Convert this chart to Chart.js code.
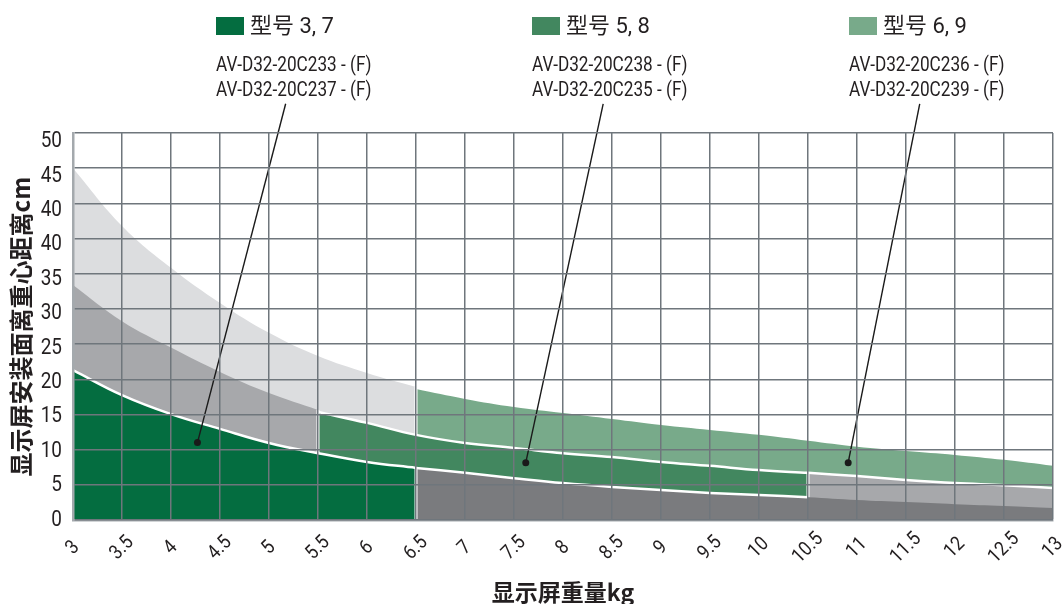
<!DOCTYPE html>
<html>
<head>
<meta charset="utf-8">
<script src="https://cdn.jsdelivr.net/npm/chart.js@4.4.1/dist/chart.umd.min.js"></script>
<style>
  html, body { margin: 0; padding: 0; background: #fff; }
  #wrap { position: relative; width: 1062px; height: 604px; overflow: hidden; }
  #chart { position: absolute; left: 0; top: 0; }
  .leg { position: absolute; top: 12px; font-family: Roboto, 'Noto Sans CJK SC', sans-serif; font-size: 22px; color: #231f20; white-space: nowrap; line-height: 28px; }
  .leg i { display: inline-block; width: 28px; height: 18px; margin-right: 6px; vertical-align: -2px; }
  .mdl { position: absolute; top: 52px; font-family: Roboto, sans-serif; font-size: 20px; line-height: 25px; color: #231f20; white-space: nowrap; transform: scaleX(0.86); transform-origin: 0 0; }
</style>
</head>
<body>
<div id="wrap">
  <canvas id="chart" width="1062" height="604"></canvas>
</div>
<script>
// weights (kg) on the x axis
const weightsA = [3, 3.5, 4, 4.5, 5, 5.5, 6, 6.5];
const weightsB = [5.5, 6, 6.5, 7, 7.5, 8, 8.5, 9, 9.5, 10, 10.5];
const weightsC = [6.5, 7, 7.5, 8, 8.5, 9, 9.5, 10, 10.5, 11, 11.5, 12, 12.5, 13];
const weightsD = [10.5, 11, 11.5, 12, 12.5, 13];
const weightsM = [3, 3.5, 4, 4.5, 5, 5.5];

// band tops, in grid rows of the y axis (see yTickLabels)
const lightGrayTop = [10.0, 8.36, 7.17, 6.17, 5.32, 4.66, 4.18, 3.78];
const midGrayTop = [6.68, 5.65, 4.90, 4.21, 3.61, 3.13];
const darkGreenTop = [4.26, 3.55, 3.01, 2.59, 2.19, 1.90, 1.65, 1.48];
const midGreenTop = [3.07, 2.76, 2.42, 2.19, 2.05, 1.90, 1.79, 1.65, 1.54, 1.42, 1.34];
const lightGreenTop = [3.72, 3.44, 3.21, 3.04, 2.87, 2.70, 2.56, 2.42, 2.25, 2.08, 1.96, 1.85, 1.71, 1.54];
const darkGrayTop = [1.48, 1.34, 1.19, 1.05, 0.94, 0.85, 0.77, 0.71, 0.65, 0.57, 0.51, 0.45, 0.40, 0.34];
const midGrayTop2 = [1.34, 1.25, 1.14, 1.05, 0.99, 0.91];

const xTickLabels = ['3', '3.5', '4', '4.5', '5', '5.5', '6', '6.5', '7', '7.5', '8', '8.5', '9', '9.5', '10', '10.5', '11', '11.5', '12', '12.5', '13'];
const yTickLabels = ['0', '5', '10', '15', '20', '25', '30', '35', '40', '40', '45', '50'];

// callout lines: from below the model names down to a dot in each band
const leaderTopX = [5.17, 8.41, 11.64];
const leaderTopY = 11.83;
const leaderDotX = [4.27, 7.62, 10.91];
const leaderDotY = [2.20, 1.63, 1.63];

const legendNames = ['型号 3, 7', '型号 5, 8', '型号 6, 9'];
const legendModels = [
  ['AV-D32-20C233 - (F)', 'AV-D32-20C237 - (F)'],
  ['AV-D32-20C238 - (F)', 'AV-D32-20C235 - (F)'],
  ['AV-D32-20C236 - (F)', 'AV-D32-20C239 - (F)']
];
const legendColors = ['#046d40', '#42875f', '#78aa8a'];
const legendLeft = [216, 532, 849];

const CJK = "'Noto Sans CJK SC', sans-serif";
const GRID = '#6f767c';

function pts(xs, ys) {
  return xs.map((x, i) => ({ x: x, y: ys[i] }));
}

function area(xs, ys, color, border) {
  return {
    data: pts(xs, ys),
    fill: 'origin',
    backgroundColor: color,
    borderColor: border || 'rgba(0,0,0,0)',
    borderWidth: border ? 2.5 : 0,
    pointRadius: 0,
    tension: 0.4
  };
}

function divider(x, y0, y1) {
  return {
    data: [{ x: x, y: y0 }, { x: x, y: y1 }],
    fill: false,
    borderColor: '#ffffff',
    borderWidth: 3,
    pointRadius: 0,
    tension: 0
  };
}

function leader(i) {
  return {
    data: [{ x: leaderTopX[i], y: leaderTopY }, { x: leaderDotX[i], y: leaderDotY[i] }],
    fill: false,
    borderColor: '#1a1a1a',
    borderWidth: 1.4,
    pointRadius: [0, 3.5],
    pointBackgroundColor: '#1a1a1a',
    pointBorderWidth: 0,
    tension: 0,
    clip: false
  };
}

const darkGray = area(weightsC, darkGrayTop, '#7a7b7e', '#ffffff');
darkGray.segment = {
  borderColor: ctx => ctx.p0.parsed.x < 10.5 ? '#ffffff' : 'rgba(0,0,0,0)'
};

// first dataset is drawn on top
const datasets = [
  leader(0), leader(1), leader(2),
  divider(6.5, 0, darkGreenTop[7]),
  divider(5.5, darkGreenTop[5], midGrayTop[5]),
  divider(6.5, midGreenTop[2], lightGrayTop[7]),
  divider(10.5, darkGrayTop[8], midGreenTop[10]),
  area(weightsA, darkGreenTop, '#046d40', '#ffffff'),
  darkGray,
  area(weightsB, midGreenTop, '#42875f', '#ffffff'),
  area(weightsD, midGrayTop2, '#a7a8ab', '#ffffff'),
  area(weightsM, midGrayTop, '#a7a8ab'),
  area(weightsC, lightGreenTop, '#78aa8a'),
  area(weightsA, lightGrayTop, '#dcdddf')
];

// tick labels: x ones rotated and centred under their grid line,
// y ones drift a little downward toward the top as in the source
const tickLabelsPlugin = {
  id: 'tickLabels',
  afterDraw(chart) {
    const ctx = chart.ctx;
    const xs = chart.scales.x;
    const ys = chart.scales.y;
    ctx.save();
    ctx.fillStyle = '#231f20';
    ctx.textBaseline = 'middle';
    ctx.font = '20px Roboto';
    ctx.textAlign = 'center';
    xTickLabels.forEach(lbl => {
      const px = xs.getPixelForValue(parseFloat(lbl));
      ctx.save();
      ctx.translate(px, xs.top + 28);
      ctx.rotate(-Math.PI / 4);
      ctx.scale(0.88, 1);
      ctx.fillText(lbl, 0, 0);
      ctx.restore();
    });
    ctx.font = '22px Roboto';
    ctx.textAlign = 'right';
    yTickLabels.forEach((lbl, i) => {
      const py = ys.getPixelForValue(i) + i * 0.8;
      ctx.save();
      ctx.translate(ys.right - 11, py);
      ctx.scale(0.86, 1);
      ctx.fillText(lbl, 0, 0);
      ctx.restore();
    });
    ctx.restore();
  }
};

new Chart(document.getElementById('chart'), {
  type: 'line',
  data: { datasets: datasets },
  plugins: [tickLabelsPlugin],
  options: {
    responsive: false,
    animation: false,
    layout: { padding: { top: 133, right: 9, left: 0, bottom: 0 } },
    plugins: { legend: { display: false }, tooltip: { enabled: false } },
    scales: {
      x: {
        type: 'linear',
        min: 3,
        max: 13,
        ticks: { stepSize: 0.5, display: false },
        grid: { color: GRID, lineWidth: 1.5, drawTicks: false, z: 1 },
        border: { color: '#a4a9ad', width: 2.5, z: 1 },
        title: {
          display: true,
          text: '显示屏重量kg',
          color: '#231f20',
          font: { family: CJK, size: 23, weight: 'bold', lineHeight: 1 },
          padding: { top: 0, bottom: 0 }
        },
        afterFit: s => { s.height = 84; }
      },
      y: {
        min: 0,
        max: 11,
        ticks: { stepSize: 1, display: false },
        grid: { color: GRID, lineWidth: 1.5, drawTicks: false, z: 1 },
        border: { color: '#a4a9ad', width: 2.5, z: 1 },
        title: {
          display: true,
          text: '显示屏安装面离重心距离cm',
          color: '#231f20',
          font: { family: CJK, size: 24, weight: 'bold', lineHeight: 1 },
          padding: { top: 9, bottom: 0 }
        },
        afterFit: s => { s.width = 73; }
      }
    }
  }
});

// legend boxes and model names above the chart
const wrap = document.getElementById('wrap');
legendNames.forEach((name, i) => {
  const leg = document.createElement('div');
  leg.className = 'leg';
  leg.style.left = legendLeft[i] + 'px';
  leg.innerHTML = '<i style="background:' + legendColors[i] + '"></i>' + name;
  wrap.appendChild(leg);
  const mdl = document.createElement('div');
  mdl.className = 'mdl';
  mdl.style.left = legendLeft[i] + 'px';
  mdl.innerHTML = legendModels[i].join('<br>');
  wrap.appendChild(mdl);
});
</script>
</body>
</html>
